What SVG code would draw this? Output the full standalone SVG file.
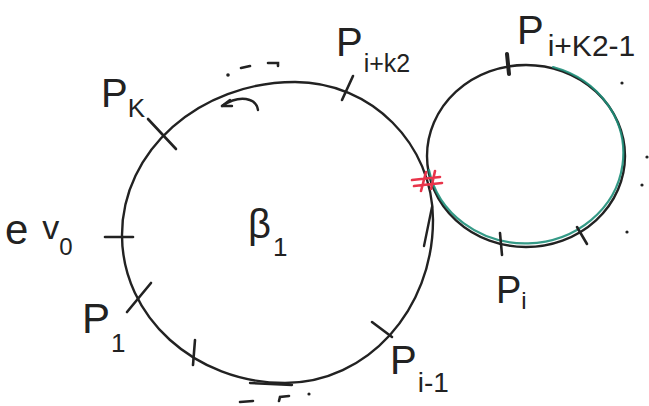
<svg xmlns="http://www.w3.org/2000/svg" width="649" height="406" viewBox="0 0 649 406">
<style>
.ink{fill:none;stroke:#222;stroke-width:2.4;stroke-linecap:round;stroke-linejoin:round}
.tick{fill:none;stroke:#222;stroke-width:2.6;stroke-linecap:round}
.green{fill:none;stroke:#1f8f7a;stroke-width:2.2;stroke-linecap:round;opacity:0.9}
.red{fill:none;stroke:#e8344a;stroke-width:2.6;stroke-linecap:round}
.lbl{font-family:"Liberation Sans",Arial,sans-serif;fill:#222}
.dot{fill:#222}
</style>
<rect width="649" height="406" fill="#fff"/>
<g id="cycle-beta1">
<path class="ink" d="M122,235 C122,150.5 199.5,82 295,82 C371,82 433,144 433,220 C433,310 367,383 285,383 C195,383 122,317 122,235 Z"/>
<path class="tick" d="M148,119 L176,149"/>
<path class="tick" d="M105,237 L133,237"/>
<path class="tick" d="M127,312 L151,283"/>
<path class="tick" d="M195,340 L193,365"/>
<path class="tick" d="M342,100 L353,76"/>
<path class="tick" d="M372,322 L392,337"/>
<path class="ink" d="M258,110 C256,98 240,94 222,106"/>
<path class="ink" d="M222,106 L230,100 M222,106 L232,106"/>
<path class="ink" d="M432,207 L424,246"/>
<path class="ink" d="M250,383 L292,385"/>
<circle class="dot" cx="228" cy="75" r="1.8"/>
<path class="tick" d="M241,68 L250,66 M268,63 L278,63 L278,66"/>
<path class="tick" d="M240,402 L253,401 M279,401 L280,397 L289,396"/>
<circle class="dot" cx="309" cy="394" r="1.6"/>
</g>
<g id="cycle-small">
<ellipse class="ink" cx="526" cy="156" rx="99" ry="91"/>
<path class="green" d="M553,67 A98 90 0 1 1 429,170"/>
<path class="tick" style="stroke-width:4" d="M507,54 L509,74"/>
<path class="tick" d="M500,233 L502,255"/>
<path class="tick" d="M577,227 L587,244"/>
<circle class="dot" cx="622" cy="83" r="1.6"/>
<circle class="dot" cx="647" cy="157" r="1.6"/>
<circle class="dot" cx="642" cy="185" r="1.6"/>
<circle class="dot" cx="627" cy="232" r="1.6"/>
</g>
<g id="mark-shared">
<path class="red" d="M412,180 L440,177 M414,186 L442,183 M426,172 L421,191 M435,171 L431,189"/>
</g>
<g id="labels">
<text class="lbl" x="101" y="107" font-size="40">P<tspan font-size="26" dy="10">K</tspan></text>
<text class="lbl" x="336" y="56" font-size="40">P<tspan font-size="25" dy="16" dx="1">i+k2</tspan></text>
<text class="lbl" x="517" y="44" font-size="40">P<tspan font-size="30" dy="12" dx="4">i+K2-1</tspan></text>
<text class="lbl" x="248" y="238" font-size="40">β<tspan font-size="26" dy="18" dx="2">1</tspan></text>
<text class="lbl" x="5" y="244" font-size="42">e<tspan dx="14" font-size="34" dy="-5">v</tspan><tspan font-size="24" dy="16">0</tspan></text>
<text class="lbl" x="82" y="333" font-size="42">P<tspan font-size="26" dy="19" dx="1">1</tspan></text>
<text class="lbl" x="496" y="303" font-size="38">P<tspan font-size="24" dy="6">i</tspan></text>
<text class="lbl" x="390" y="374" font-size="40">P<tspan font-size="28" dy="18" dx="1">i-1</tspan></text>
</g>
</svg>
